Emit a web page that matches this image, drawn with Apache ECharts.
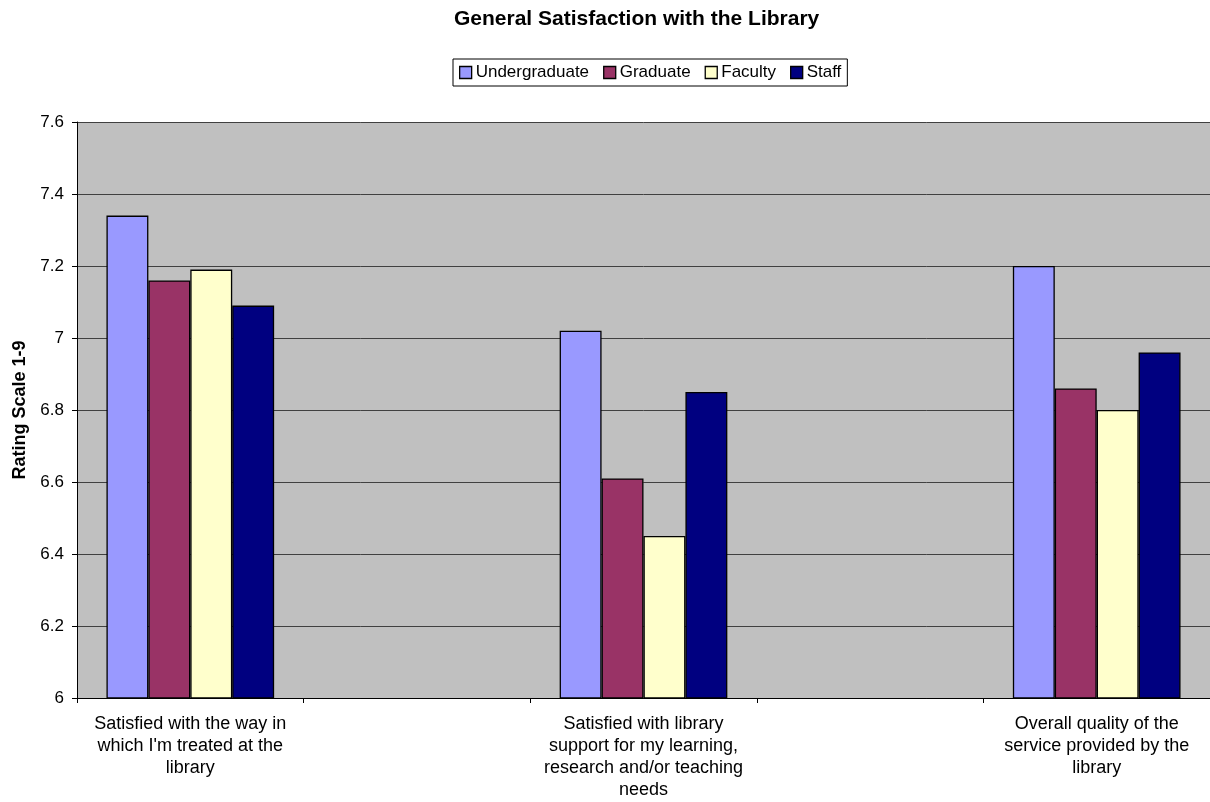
<!DOCTYPE html>
<html>
<head>
<meta charset="utf-8">
<script src="https://cdn.jsdelivr.net/npm/echarts@6/dist/echarts.min.js"></script>
<style>
html,body{margin:0;padding:0;background:#fff;}
#chart{width:1210px;height:802px;}
</style>
</head>
<body>
<div id="chart"></div>
<script>
var categories = [
  "Satisfied with the way in\nwhich I'm treated at the\nlibrary",
  "Satisfied with library\nsupport for my learning,\nresearch and/or teaching\nneeds",
  "Overall quality of the\nservice provided by the\nlibrary"
];
var seriesNames = ["Undergraduate", "Graduate", "Faculty", "Staff"];
var undergraduate = [7.34, 7.02, 7.20];
var graduate = [7.16, 6.61, 6.86];
var faculty = [7.19, 6.45, 6.80];
var staff = [7.09, 6.85, 6.96];
var colors = ["#9999FF", "#993366", "#FFFFCC", "#000080"];
var yTicks = [6, 6.2, 6.4, 6.6, 6.8, 7, 7.2, 7.4, 7.6];

// Interleave blank category slots between the real categories
function spread(arr, blank) {
  var out = [];
  arr.forEach(function (v, i) {
    if (i > 0) out.push(blank);
    out.push(v);
  });
  return out;
}
var axisCats = spread(categories, "");
var allData = [undergraduate, graduate, faculty, staff];

var chart = echarts.init(document.getElementById('chart'));
var font = '"Liberation Sans", Arial, sans-serif';
chart.setOption({
  animation: false,
  backgroundColor: '#ffffff',
  color: colors,
  title: {
    text: 'General Satisfaction with the Library',
    left: 454,
    top: 9,
    padding: 0,
    textStyle: { fontFamily: font, fontSize: 21, fontWeight: 'bold', color: '#000' }
  },
  legend: {
    top: 59,
    left: 453,
    data: seriesNames,
    icon: 'rect',
    itemWidth: 12,
    itemHeight: 12,
    itemGap: 14,
    padding: [5, 6, 5, 6],
    borderColor: '#000',
    borderWidth: 1,
    itemStyle: { borderColor: '#000', borderWidth: 1.3 },
    textStyle: { fontFamily: font, fontSize: 17, color: '#000', padding: [0, 0, 0, -1] }
  },
  grid: {
    left: 77,
    right: 0,
    top: 122,
    bottom: 104,
    show: true,
    backgroundColor: '#C0C0C0',
    borderWidth: 0
  },
  xAxis: {
    type: 'category',
    data: axisCats,
    boundaryGap: true,
    axisLine: { lineStyle: { color: '#000', width: 1 } },
    axisTick: { show: true, length: 5, lineStyle: { color: '#000' }, interval: 0 },
    axisLabel: {
      interval: 0,
      margin: 15,
      fontFamily: font,
      fontSize: 18,
      lineHeight: 22,
      color: '#000',
      align: 'center'
    }
  },
  yAxis: {
    type: 'value',
    min: yTicks[0],
    max: yTicks[yTicks.length - 1],
    interval: 0.2,
    name: 'Rating Scale 1-9',
    nameLocation: 'middle',
    nameGap: 47,
    nameRotate: 90,
    nameTextStyle: { fontFamily: font, fontSize: 18, fontWeight: 'bold', color: '#000' },
    axisLine: { show: true, lineStyle: { color: '#000', width: 1 } },
    axisTick: { show: true, length: 5, lineStyle: { color: '#000' } },
    axisLabel: {
      fontFamily: font,
      fontSize: 17,
      color: '#000',
      margin: 13,
      formatter: function (v) { return String(Math.round(v * 10) / 10); }
    },
    splitLine: { show: true, lineStyle: { color: '#404040', width: 1 } }
  },
  series: seriesNames.map(function (name, i) {
    return {
      name: name,
      type: 'bar',
      data: spread(allData[i], '-'),
      barGap: '0%',
      barCategoryGap: '26%',
      itemStyle: { color: colors[i], borderColor: '#000', borderWidth: 1.3 }
    };
  })
});
</script>
</body>
</html>
